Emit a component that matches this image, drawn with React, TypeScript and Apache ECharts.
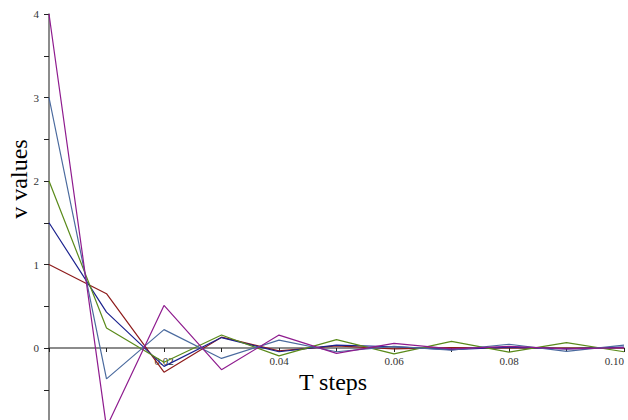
import React, { useEffect, useRef } from "react";
import * as echarts from "echarts";

const tSteps = [0, 0.01, 0.02, 0.03, 0.04, 0.05, 0.06, 0.07, 0.08, 0.09, 0.1];
const seriesRed = [1, 0.65, -0.29, 0.13, -0.035, 0.025, -0.01, 0.005, 0, 0, 0];
const seriesNavy = [1.5, 0.43, -0.22, 0.125, -0.045, 0.035, 0.015, -0.02, 0.01, -0.01, 0.01];
const seriesGreen = [2, 0.24, -0.17, 0.155, -0.095, 0.1, -0.07, 0.08, -0.05, 0.065, -0.045];
const seriesSteel = [3, -0.37, 0.22, -0.125, 0.095, -0.045, 0.02, -0.025, 0.045, -0.04, 0.035];
const seriesPurple = [4, -0.95, 0.51, -0.26, 0.155, -0.065, 0.055, -0.01, 0.02, -0.01, 0.005];

const allSeries = [
  { name: "v0=1", values: seriesRed, color: "#8E1B1B" },
  { name: "v0=1.5", values: seriesNavy, color: "#1B228E" },
  { name: "v0=2", values: seriesGreen, color: "#5A8A1A" },
  { name: "v0=3", values: seriesSteel, color: "#4A6A9E" },
  { name: "v0=4", values: seriesPurple, color: "#8E1B8E" },
];

const serif = "Liberation Serif";
const H = 432; // chart height (taller than the viewport; bottom part is clipped)
const ZERO_Y = 348;
const TOP_Y = 14;

export default function App() {
  const ref = useRef<HTMLDivElement>(null);
  useEffect(() => {
    if (!ref.current) return;
    const chart = echarts.init(ref.current, undefined, { renderer: "svg" });
    const axisLineStyle = { color: "#666", width: 1.5 };
    const tickStyle = { color: "#222" };
    chart.setOption({
      animation: false,
      textStyle: { fontFamily: serif },
      grid: [
        { left: 49, right: 4, top: TOP_Y, bottom: H - ZERO_Y, containLabel: false },
        { left: 49, right: 4, top: ZERO_Y, bottom: 0, containLabel: false },
      ],
      xAxis: [
        {
          type: "value",
          gridIndex: 0,
          min: 0,
          max: 0.1,
          interval: 0.01,
          splitLine: { show: false },
          axisLine: { onZero: false, lineStyle: axisLineStyle },
          axisTick: { show: true, length: 4, lineStyle: tickStyle },
          axisLabel: {
            fontFamily: serif,
            fontSize: 11,
            color: "#333",
            margin: 7,
            alignMaxLabel: "right",
            formatter: (v: number) => {
              const k = Math.round(v * 100);
              if (k === 0 || k % 2 !== 0) return "";
              return v.toFixed(2);
            },
          },
        },
        {
          type: "value",
          gridIndex: 1,
          min: 0,
          max: 0.1,
          show: false,
        },
      ],
      yAxis: [
        {
          type: "value",
          gridIndex: 0,
          min: 0,
          max: 4,
          interval: 0.5,
          splitLine: { show: false },
          axisLine: { show: true, lineStyle: axisLineStyle },
          axisTick: { show: true, length: 5, lineStyle: tickStyle },
          axisLabel: {
            fontFamily: serif,
            fontSize: 11,
            color: "#333",
            margin: 10,
            formatter: (v: number) => (Math.abs(v - Math.round(v)) < 1e-9 ? String(Math.round(v)) : ""),
          },
        },
        {
          type: "value",
          gridIndex: 1,
          min: -1,
          max: 0,
          interval: 0.5,
          splitLine: { show: false },
          axisLine: { show: true, lineStyle: axisLineStyle },
          axisTick: { show: true, length: 5, lineStyle: tickStyle },
          axisLabel: { show: false },
        },
      ],
      series: allSeries.map((s) => ({
        type: "line",
        name: s.name,
        xAxisIndex: 0,
        yAxisIndex: 0,
        clip: false,
        data: tSteps.map((t, i) => [t, s.values[i]]),
        symbol: "none",
        lineStyle: { color: s.color, width: 1.2 },
        itemStyle: { color: s.color },
      })),
      graphic: [
        {
          type: "text",
          x: 19,
          y: 179,
          rotation: Math.PI / 2,
          style: {
            text: "v values",
            fontFamily: serif,
            fontSize: 24,
            fill: "#000",
            align: "center",
            verticalAlign: "middle",
          },
        },
        {
          type: "text",
          x: 333,
          y: 382,
          style: {
            text: "T steps",
            fontFamily: serif,
            fontSize: 24,
            fill: "#000",
            align: "center",
            verticalAlign: "middle",
          },
        },
      ],
    });
    return () => chart.dispose();
  }, []);
  return (
    <div
      ref={ref}
      style={{ position: "fixed", left: 0, top: 0, width: 628, height: H, background: "#fff" }}
    />
  );
}
